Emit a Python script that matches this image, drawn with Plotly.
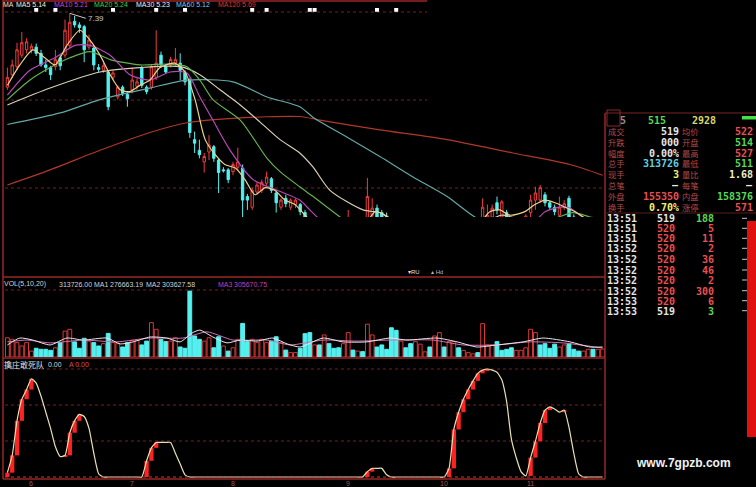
import plotly.graph_objects as go

W, H = 756, 487

# ---------------- data ----------------
bars = list(range(125))

open_ = [6.56, 6.70, 6.79, 6.92, 6.98, 6.98, 7.01, 6.94, 6.81, 6.78,
         6.79, 6.89, 6.92, 7.03, 7.30, 7.26, 7.24, 7.01, 7.00, 6.78,
         6.75, 6.73, 6.67, 6.45, 6.56, 6.48, 6.53, 6.57, 6.78, 6.56,
         6.56, 6.67, 6.92, 6.79, 6.81, 6.83, 6.83, 6.73, 6.64, 5.97,
         5.85, 5.72, 5.83, 5.89, 5.74, 5.63, 5.63, 5.61, 5.66, 5.65,
         5.33, 5.21, 5.38, 5.40, 5.48, 5.53, 5.37, 5.21, 5.31, 5.21,
         5.24, 5.24, 5.15, 5.04, 4.93, 5.00, 4.89, 4.95, 4.87, 4.80,
         4.75, 4.84, 4.95, 4.87, 4.93, 4.90, 5.12, 5.20, 5.15, 5.11,
         5.04, 4.89, 4.73, 4.80, 4.73, 4.66, 4.73, 4.77, 4.81, 4.75,
         4.87, 4.95, 4.89, 4.95, 5.01, 4.95, 4.99, 5.01, 5.03, 5.01,
         5.04, 5.10, 5.26, 5.10, 5.15, 5.04, 4.93, 4.98, 5.03, 5.15,
         5.29, 5.29, 5.35, 5.26, 5.21, 5.12, 5.21, 5.31, 5.10, 5.08,
         5.00, 5.02, 5.07, 5.00, 5.04]
high = [6.78, 6.87, 7.06, 7.18, 7.11, 7.05, 7.05, 6.98, 6.87, 6.80,
        6.98, 6.92, 7.32, 7.39, 7.36, 7.29, 7.26, 7.15, 7.03, 6.82,
        6.84, 6.75, 6.75, 6.58, 6.58, 6.51, 6.78, 6.66, 6.80, 6.58,
        6.81, 7.20, 6.96, 6.82, 6.90, 7.00, 6.94, 6.75, 6.66, 6.06,
        5.97, 5.82, 6.02, 5.91, 5.76, 5.66, 5.65, 5.72, 5.88, 5.69,
        5.36, 5.43, 5.49, 5.52, 5.61, 5.55, 5.40, 5.31, 5.35, 5.31,
        5.31, 5.26, 5.18, 5.07, 5.02, 5.02, 5.00, 4.98, 4.89, 4.82,
        4.87, 5.18, 5.00, 4.98, 4.98, 5.54, 5.31, 5.24, 5.18, 5.15,
        5.09, 4.91, 4.84, 4.82, 4.75, 4.75, 4.80, 4.83, 4.84, 4.89,
        4.98, 4.98, 4.98, 5.03, 5.03, 5.01, 5.03, 5.04, 5.06, 5.31,
        5.24, 5.24, 5.33, 5.29, 5.18, 5.09, 5.07, 5.09, 5.13, 5.35,
        5.44, 5.46, 5.38, 5.28, 5.24, 5.33, 5.29, 5.34, 5.13, 5.10,
        5.07, 5.09, 5.09, 5.07, 5.10]
low = [6.53, 6.66, 6.75, 6.89, 6.94, 6.94, 6.91, 6.79, 6.73, 6.64,
       6.75, 6.75, 6.89, 7.00, 7.23, 7.17, 6.84, 6.98, 6.75, 6.73,
       6.72, 6.30, 6.64, 6.42, 6.46, 6.34, 6.49, 6.53, 6.55, 6.48,
       6.53, 6.64, 6.78, 6.71, 6.78, 6.80, 6.64, 6.58, 5.99, 5.82,
       5.76, 5.60, 5.74, 5.72, 5.37, 5.60, 5.48, 5.57, 5.63, 5.10,
       5.18, 5.18, 5.35, 5.37, 5.45, 5.37, 5.15, 5.18, 5.21, 5.18,
       5.20, 5.12, 5.00, 4.92, 4.90, 4.87, 4.84, 4.82, 4.76, 4.71,
       4.73, 4.82, 4.84, 4.84, 4.84, 4.87, 5.07, 5.01, 4.98, 5.07,
       4.84, 4.71, 4.70, 4.69, 4.64, 4.64, 4.70, 4.75, 4.73, 4.73,
       4.83, 4.87, 4.87, 4.92, 4.93, 4.93, 4.97, 4.99, 4.98, 4.98,
       5.01, 5.07, 5.13, 5.07, 5.02, 4.92, 4.89, 4.93, 5.00, 5.10,
       5.18, 5.26, 5.22, 5.18, 5.12, 5.09, 5.18, 5.04, 5.04, 4.97,
       4.98, 4.99, 4.98, 4.97, 5.01]
close = [6.67, 6.81, 6.98, 7.06, 7.07, 7.02, 6.94, 6.81, 6.78, 6.70,
         6.87, 6.80, 7.20, 7.29, 7.26, 7.23, 6.98, 7.09, 6.81, 6.76,
         6.80, 6.34, 6.72, 6.56, 6.49, 6.43, 6.64, 6.62, 6.58, 6.51,
         6.79, 6.83, 6.81, 6.73, 6.87, 6.87, 6.75, 6.62, 6.05, 5.93,
         5.80, 5.78, 5.91, 5.76, 5.60, 5.62, 5.52, 5.69, 5.72, 5.29,
         5.29, 5.40, 5.46, 5.49, 5.55, 5.40, 5.26, 5.29, 5.25, 5.29,
         5.29, 5.16, 5.04, 4.95, 5.00, 4.91, 4.98, 4.87, 4.80, 4.75,
         4.84, 4.98, 4.89, 4.93, 4.87, 5.33, 5.20, 5.07, 5.01, 5.09,
         4.89, 4.75, 4.80, 4.73, 4.66, 4.73, 4.77, 4.81, 4.75, 4.87,
         4.95, 4.89, 4.95, 5.01, 4.95, 4.99, 5.01, 5.03, 5.00, 5.21,
         5.12, 5.20, 5.18, 5.27, 5.07, 4.95, 5.02, 5.07, 5.11, 5.29,
         5.37, 5.43, 5.26, 5.21, 5.16, 5.21, 5.25, 5.10, 5.08, 5.00,
         5.04, 5.07, 5.00, 5.04, 5.08]

# moving-average curves: (bar, price)
ma5_pts = [(0, 6.58), (2.6, 6.81), (5.3, 6.98), (7.8, 6.89), (9.9, 6.81), (12.4, 7.03),
           (15.1, 7.20), (17.2, 7.09), (19.3, 6.92), (21.4, 6.70), (23.5, 6.53), (25.5, 6.51),
           (27.6, 6.58), (29.7, 6.64), (31.8, 6.78), (34.9, 6.83), (37, 6.73), (39.1, 6.42),
           (41.2, 5.97), (43.3, 5.80), (45.3, 5.69), (47.5, 5.65), (49.5, 5.52), (51.6, 5.35),
           (53.7, 5.43), (55.7, 5.40), (57.8, 5.29), (59.9, 5.24), (62, 5.12), (64.1, 5.01),
           (70, 4.85), (74.5, 5.01), (76.6, 5.16), (78.7, 5.12), (80.8, 5.04), (88, 4.78),
           (95, 4.97), (98.5, 5.04), (100.5, 5.16), (102.6, 5.18), (104.7, 5.12), (107.8, 5.16),
           (109.9, 5.24), (112, 5.29), (114.1, 5.26), (116.2, 5.21), (118.3, 5.16), (120.3, 5.09),
           (124, 5.04)]
ma10_pts = [(0, 6.47), (4.7, 6.75), (9.9, 6.89), (14.1, 7.03), (17.2, 7.03), (21.4, 6.92),
            (25.5, 6.70), (29.7, 6.64), (33.9, 6.73), (37.4, 6.72), (40.1, 6.45), (42.8, 6.19),
            (46.4, 5.85), (51.2, 5.52), (56.2, 5.40), (60.9, 5.29), (63, 5.18), (64.5, 5.10),
            (67.2, 4.95), (75, 4.92), (85, 4.85), (95, 4.95), (103, 5.03), (108.9, 5.01),
            (112, 5.16), (115.1, 5.21), (117.2, 5.20), (119.3, 5.12), (121.4, 5.04), (124, 5.00)]
ma20_pts = [(0, 6.42), (4.7, 6.64), (8.9, 6.78), (13, 6.89), (17.2, 6.96), (21.4, 6.87),
            (27.6, 6.81), (33.9, 6.82), (37.4, 6.79), (40.1, 6.64), (42.8, 6.42), (48.5, 6.19),
            (54.1, 5.76), (56.8, 5.61), (60.9, 5.44), (63.7, 5.33), (69.3, 5.10), (73.5, 4.95),
            (85, 4.88), (100, 4.92), (110, 5.00), (117.8, 5.15), (121.4, 5.10), (124, 5.08)]
ma30_pts = [(0, 6.36), (8.9, 6.55), (19.3, 6.73), (27.6, 6.78), (36, 6.79), (40.1, 6.70),
            (44.3, 6.53), (48.5, 6.36), (52.6, 6.17), (56.8, 5.97), (60.9, 5.82), (63.7, 5.66),
            (67.2, 5.40), (74.1, 5.18), (77.6, 5.15), (79.1, 5.10), (81.8, 5.01), (95, 4.92),
            (103, 5.12), (110, 5.02), (124, 5.08)]
ma60_pts = [(0, 6.14), (11, 6.27), (19.3, 6.42), (29.7, 6.55), (37.4, 6.64), (47, 6.62),
            (54.1, 6.45), (60.9, 6.34), (63.7, 6.22), (70.7, 6.00), (77.6, 5.78), (84.5, 5.55),
            (91.6, 5.33), (97.4, 5.10), (102.6, 4.98), (124, 4.95)]
ma120_pts = [(0, 5.46), (8.9, 5.63), (19.3, 5.85), (29.7, 6.05), (37.4, 6.16), (47, 6.21),
             (60.9, 6.23), (65.1, 6.19), (77.6, 6.08), (91.6, 5.97), (105.3, 5.82), (117.2, 5.69),
             (124, 5.57)]

info_mine_bars = [6, 10, 22, 31, 37, 51, 54, 63, 64, 77, 81]

# volume in thousands of shares, and whether the day closed up (r) or down (c)
volume_k = [750, 690, 560, 430, 560, 230, 340, 300, 300, 260,
            360, 560, 1010, 1080, 590, 340, 730, 620, 560, 430,
            520, 920, 560, 520, 390, 560, 650, 650, 470, 620,
            1340, 1080, 690, 600, 620, 750, 390, 340, 2570, 820,
            690, 620, 750, 360, 790, 430, 230, 360, 690, 1310,
            600, 690, 560, 690, 560, 620, 790, 560, 270, 170,
            170, 340, 910, 950, 470, 470, 860, 520, 340, 360,
            520, 950, 270, 230, 210, 1280, 860, 390, 470, 300,
            1140, 1040, 620, 360, 520, 600, 500, 200, 390, 820,
            950, 390, 600, 600, 360, 260, 170, 120, 170, 1300,
            470, 470, 600, 260, 300, 360, 260, 260, 360, 1080,
            950, 470, 520, 340, 500, 390, 470, 520, 300, 230,
            230, 300, 300, 300, 310]
volume_dir = ("rrrrrrcccc" "rcrrcccrcc" "rcrrccrrcc" "rrccrrcccc" "crrccrcrrc"
              "crrrrccrcr" "rcccrcrccc" "rrcrcrrccc" "ccrccrrrcr" "rcrrcrrrcr"
              "rrccccrrrr" "rccccrrccc" "rrcrr")
vol_ma1_pts = [(0, 470), (2.6, 740), (5.3, 660), (8.9, 470), (12.4, 740), (15.8, 660),
               (20.75, 740), (23.5, 510), (26.2, 590), (29.7, 780), (33.2, 740), (36, 590),
               (38.5, 940), (40.1, 1050), (42.8, 780), (45.75, 550), (48.5, 660), (52, 620),
               (55.3, 740), (58.3, 510), (61, 390), (65.75, 740), (69.9, 590), (74.9, 590),
               (79.7, 740), (83.25, 660), (89.5, 740), (93.7, 590), (97.8, 390), (102, 470),
               (107.4, 590), (111.6, 740), (117.2, 590), (121.4, 390), (124, 390)]
vol_ma2_pts = [(0, 590), (4.1, 660), (8.9, 550), (15.75, 660), (22.8, 590), (29.7, 740),
               (36.6, 740), (41.6, 980), (47, 660), (54.1, 660), (58.9, 470), (65.75, 660),
               (72.8, 620), (79.7, 660), (88.7, 660), (94.9, 470), (102, 470), (108.9, 590),
               (115.75, 550), (124, 350)]

# indicator 擒庄敢死队
indicator = [4, 20, 52, 72, 81, 91, 87, 75, 60, 45,
             28, 19, 20, 41, 52, 58, 56, 45, 22, 3,
             0, 0, 0, 0, 0, 0, 0, 0, 0, 15,
             27, 32, 32, 32, 32, 22, 12, 2, 0, 0,
             0, 0, 0, 0, 0, 0, 0, 0, 0, 0,
             0, 0, 0, 0, 0, 0, 0, 0, 0, 0,
             0, 0, 0, 0, 0, 0, 0, 0, 0, 0,
             0, 0, 0, 0, 0, 5, 8, 8, 8, 2,
             0, 0, 0, 0, 0, 0, 0, 0, 0, 0,
             0, 0, 8, 44, 60, 72, 81, 89, 96, 99,
             100, 99, 97, 90, 70, 35, 18, 5, 1, 18,
             33, 50, 62, 65, 63, 60, 62, 46, 22, 3,
             0, 0, 0, 0, 0]

month_labels = ["6", "7", "8", "9", "10", "11"]
month_bars = [5, 26, 47, 71, 91, 109]

# quote board
quote_left_labels = ["成交", "升跌", "幅度", "总手", "现手", "总笔", "外盘", "换手"]
quote_left_values = ["519", "000", "0.00%", "313726", "3", "—", "155350", "0.70%"]
quote_right_labels = ["均价", "开盘", "最高", "最低", "量比", "每笔", "内盘", "涨停"]
quote_right_values = ["522", "514", "527", "511", "1.68", "—", "158376", "571"]
tick_times = ["13:51", "13:51", "13:51", "13:52", "13:52", "13:52", "13:52", "13:52", "13:53", "13:53"]
tick_prices = ["519", "520", "520", "520", "520", "520", "520", "520", "520", "519"]
tick_vols = ["188", "5", "11", "2", "36", "46", "2", "300", "6", "3"]
tick_buy = [False, True, True, True, True, True, True, True, True, False]

# ---------------- styling ----------------
RED = "#f03c3c"
CYAN = "#54f0f0"
BORDER = "#9a2626"
GRID = "#7a2020"
WHITE = "#e6e6e6"
GREEN = "#58d858"
YELLOW = "#f0f070"
LABEL = "#b04a4a"
MONO = "DejaVu Sans Mono"
SANS = "Liberation Sans"
CJK = "Noto Sans CJK SC"

def px(x):
    return x / W

def py(y):
    return 1 - y / H

fig = go.Figure()

# price panel
fig.add_trace(go.Candlestick(
    x=bars, open=open_, high=high, low=low, close=close,
    xaxis="x", yaxis="y", whiskerwidth=0, hoverinfo="skip", showlegend=False,
    increasing=dict(line=dict(color=RED, width=1), fillcolor="black"),
    decreasing=dict(line=dict(color=CYAN, width=1), fillcolor=CYAN)))

for pts, col in [(ma120_pts, "#b03828"), (ma60_pts, "#62a8a4"), (ma30_pts, "#d8d0b4"),
                 (ma20_pts, "#64b050"), (ma10_pts, "#b848b8"), (ma5_pts, "#ecd28c")]:
    fig.add_trace(go.Scatter(x=[p[0] for p in pts], y=[p[1] for p in pts], mode="lines",
                             line=dict(color=col, width=1.2, shape="spline", smoothing=0.7),
                             xaxis="x", yaxis="y", hoverinfo="skip", showlegend=False))

fig.add_trace(go.Scatter(x=info_mine_bars, y=[7.43] * len(info_mine_bars), mode="markers",
                         marker=dict(symbol="square", size=4, color="white"),
                         xaxis="x", yaxis="y", hoverinfo="skip", showlegend=False))

# volume panel
fig.add_trace(go.Bar(
    x=bars, y=volume_k, width=0.8, xaxis="x2", yaxis="y2", hoverinfo="skip", showlegend=False,
    marker=dict(color=["black" if d == "r" else CYAN for d in volume_dir],
                line=dict(color=["#d83838" if d == "r" else CYAN for d in volume_dir], width=1))))
for pts, col in [(vol_ma2_pts, "#d070b8"), (vol_ma1_pts, "#e8e8e8")]:
    fig.add_trace(go.Scatter(x=[p[0] for p in pts], y=[p[1] for p in pts], mode="lines",
                             line=dict(color=col, width=1, shape="spline", smoothing=0.6),
                             xaxis="x2", yaxis="y2", hoverinfo="skip", showlegend=False))

# indicator panel
fig.add_trace(go.Scatter(x=bars, y=indicator, mode="lines",
                         line=dict(color="#e8e0b4", width=1.2, shape="spline", smoothing=0.5),
                         xaxis="x3", yaxis="y3", hoverinfo="skip", showlegend=False))
rise_x, rise_base, rise_h = [], [], []
for i in range(len(indicator)):
    prev = indicator[i - 1] if i > 0 else 0
    if indicator[i] > prev:
        rise_x.append(bars[i])
        rise_base.append(prev)
        rise_h.append(indicator[i] - prev)
fig.add_trace(go.Bar(x=rise_x, y=rise_h, base=rise_base, width=0.9,
                     marker=dict(color="#ff2222", line=dict(width=0)),
                     xaxis="x3", yaxis="y3", hoverinfo="skip", showlegend=False))

xdom = [px(5), px(605)]
xr = [-0.5, 124.5]
fig.update_layout(
    width=W, height=H, margin=dict(l=0, r=0, t=0, b=0),
    paper_bgcolor="black", plot_bgcolor="black", showlegend=False, barmode="overlay",
    xaxis=dict(domain=xdom, range=xr, visible=False, anchor="y", rangeslider=dict(visible=False)),
    xaxis2=dict(domain=xdom, range=xr, visible=False, anchor="y2", matches="x"),
    xaxis3=dict(domain=xdom, range=xr, visible=False, anchor="y3", matches="x"),
    yaxis=dict(domain=[py(217), py(8)], range=[5.10, 7.45], visible=False, anchor="x"),
    yaxis2=dict(domain=[py(357), py(290)], range=[0, 2613], visible=False, anchor="x2"),
    yaxis3=dict(domain=[py(479), py(366)], range=[-1.85, 102.8], visible=False, anchor="x3"),
)

shapes = []

def hline(y, x0, x1, color, width=1, dash="solid", layer="above"):
    shapes.append(dict(type="line", xref="paper", yref="paper", x0=px(x0), x1=px(x1),
                       y0=py(y), y1=py(y), line=dict(color=color, width=width, dash=dash), layer=layer))

def vline(x, y0, y1, color, width=1, layer="above"):
    shapes.append(dict(type="line", xref="paper", yref="paper", x0=px(x), x1=px(x),
                       y0=py(y0), y1=py(y1), line=dict(color=color, width=width), layer=layer))

def rect(x0, y0, x1, y1, fill, line=None):
    shapes.append(dict(type="rect", xref="paper", yref="paper", x0=px(x0), x1=px(x1),
                       y0=py(y1), y1=py(y0), fillcolor=fill,
                       line=dict(width=1 if line else 0, color=line or fill), layer="above"))

# grids
hline(12, 5, 427, GRID, 1, "dot", "below")
hline(100, 5, 427, GRID, 1, "dot", "below")
hline(188, 5, 604, GRID, 1, "dot", "below")
hline(290, 5, 604, GRID, 1, "dot", "below")
for yy in (369, 405, 441):
    hline(yy, 5, 604, GRID, 1, "dot", "below")
hline(477, 5, 604, "#e03030", 1.2, "dot", "above")

# borders
vline(3, 0, 479, BORDER, 1.5)
vline(605, 113, 479, BORDER, 1.5)
hline(1, 3, 427, BORDER, 1.5)
hline(277, 3, 605, BORDER, 1.5)
hline(358, 3, 605, BORDER, 1.5)
hline(479, 3, 605, BORDER, 1.5)

# quote board lines / bars
hline(113, 605, 756, "#7a2424", 1)
hline(213, 605, 756, "#5a1c1c", 1)
rect(607, 110, 620, 126, "rgba(0,0,0,0)", "#8a2a2a")
rect(742, 116, 756, 119.5, "#44e044")
rect(747, 221, 756, 437, "#e01010")

ann = []

def text(x, y, s, color, size=7, anchor="left", family=SANS, bold=False, h=None, align=None):
    a = dict(xref="paper", yref="paper", x=px(x), y=py(y), text=s, showarrow=False,
             xanchor=anchor, yanchor="middle", borderpad=0,
             font=dict(family=family, size=size, color=color,
                       weight="bold" if bold else "normal"))
    if h is not None:
        a["height"] = h
    if align is not None:
        a["align"] = align
    ann.append(a)

# MA legend
for x0, s, c in [(2, "MA", "#e0e0e0"), (15, "MA5 5.14", "#f0f0d0"), (53, "MA10 5.21", "#d040d0"),
                 (93, "MA20 5.24", "#40d040"), (135, "MA30 5.23", "#f0f0f0"),
                 (175, "MA60 5.12", "#80c8e0"), (217, "MA120 5.69", "#e03030")]:
    text(x0, 4.5, s, c, 7, h=8)

# 7.39 high marker
ann.append(dict(xref="x", yref="y", x=13, y=7.39, text="7.39", showarrow=True, arrowhead=0,
                arrowwidth=1, arrowcolor="#c8c8c8", ax=16, ay=5, xanchor="left",
                font=dict(family=SANS, size=8, color="#c8c8c8")))

# volume legend
for x0, s, c in [(3, "VOL(5,10,20)", "#d0d0d0"), (58, "313726.00", "#d0d0d0"), (93, "MA1", "#d0d0d0"),
                 (109, "276663.19", "#d0d0d0"), (145, "MA2", "#d0d0d0"), (161, "303627.58", "#d0d0d0"),
                 (217, "MA3", "#c040c0"), (233, "305670.75", "#c040c0")]:
    text(x0, 283.5, s, c, 7, h=8)

# small marker text between panels
text(407, 271, "▾RU", "#e0e0e0", 6, h=7)
text(430, 271, "▴ Hd", "#d0b0b0", 6, h=7)

# indicator legend
text(3, 364, "擒庄敢死队", "#e0e0e0", 8, family=CJK, h=10)
text(47, 364, "0.00", "#d8d8d8", 7, h=8)
text(68, 364, "A 0.00", "#e04848", 7, h=8)

# month labels
for b, s in zip(month_bars, month_labels):
    ann.append(dict(xref="x", yref="paper", x=b, y=py(483), text=s, showarrow=False,
                    xanchor="center", yanchor="middle", borderpad=0, height=8,
                    font=dict(family=SANS, size=7, color="#a85050")))

# quote board
text(623, 120, "5", "#909090", 10, "center", MONO, True, 10)
text(657, 120, "515", GREEN, 10, "center", MONO, True, 10)
text(704, 120, "2928", "#d8d870", 10, "center", MONO, True, 10)
quote_ys = [131, 141.8, 152.6, 163.4, 174.2, 185, 195.8, 206.6]
lcol = [WHITE, WHITE, WHITE, "#60d0e0", YELLOW, WHITE, "#e85050", YELLOW]
rcol = ["#e85050", GREEN, "#e85050", GREEN, "#f0f0c0", WHITE, GREEN, "#e85050"]
mid = (quote_ys[0] + quote_ys[-1]) / 2
# the two label columns as one block each (line pitch 1.3 x 8.3 px = 10.8 px)
text(607, mid, "<br>".join(quote_left_labels), LABEL, 8.3, family=CJK, align="left")
text(681, mid, "<br>".join(quote_right_labels), LABEL, 8.3, family=CJK, align="left")
for k, yy in enumerate(quote_ys):
    text(680, yy, quote_left_values[k], lcol[k], 10, "right", MONO, True, 10)
    text(754, yy, quote_right_values[k], rcol[k], 10, "right", MONO, True, 10)

tick_ys = [218.3, 228.3, 238.3, 248.3, 259.3, 270, 280, 290.7, 300.7, 310.7]
for k, yy in enumerate(tick_ys):
    text(606, yy, tick_times[k], WHITE, 10, "left", MONO, True, 10)
    pc = WHITE if tick_prices[k] == "519" else "#e85050"
    text(666, yy, tick_prices[k], pc, 10, "center", MONO, True, 10)
    text(715, yy, tick_vols[k], "#e85050" if tick_buy[k] else GREEN, 10, "right", MONO, True, 10)
    hline(yy, 742, 747, "#c8c8c8", 1)

# watermark
text(683, 463, "www.7gpzb.com", "#f2f2f2", 12, "center", SANS, True)

fig.update_layout(shapes=shapes, annotations=ann)
fig.write_html("out.html", config={"displayModeBar": False},
               post_script="document.body.style.margin='0px';document.body.style.overflow='hidden';")
